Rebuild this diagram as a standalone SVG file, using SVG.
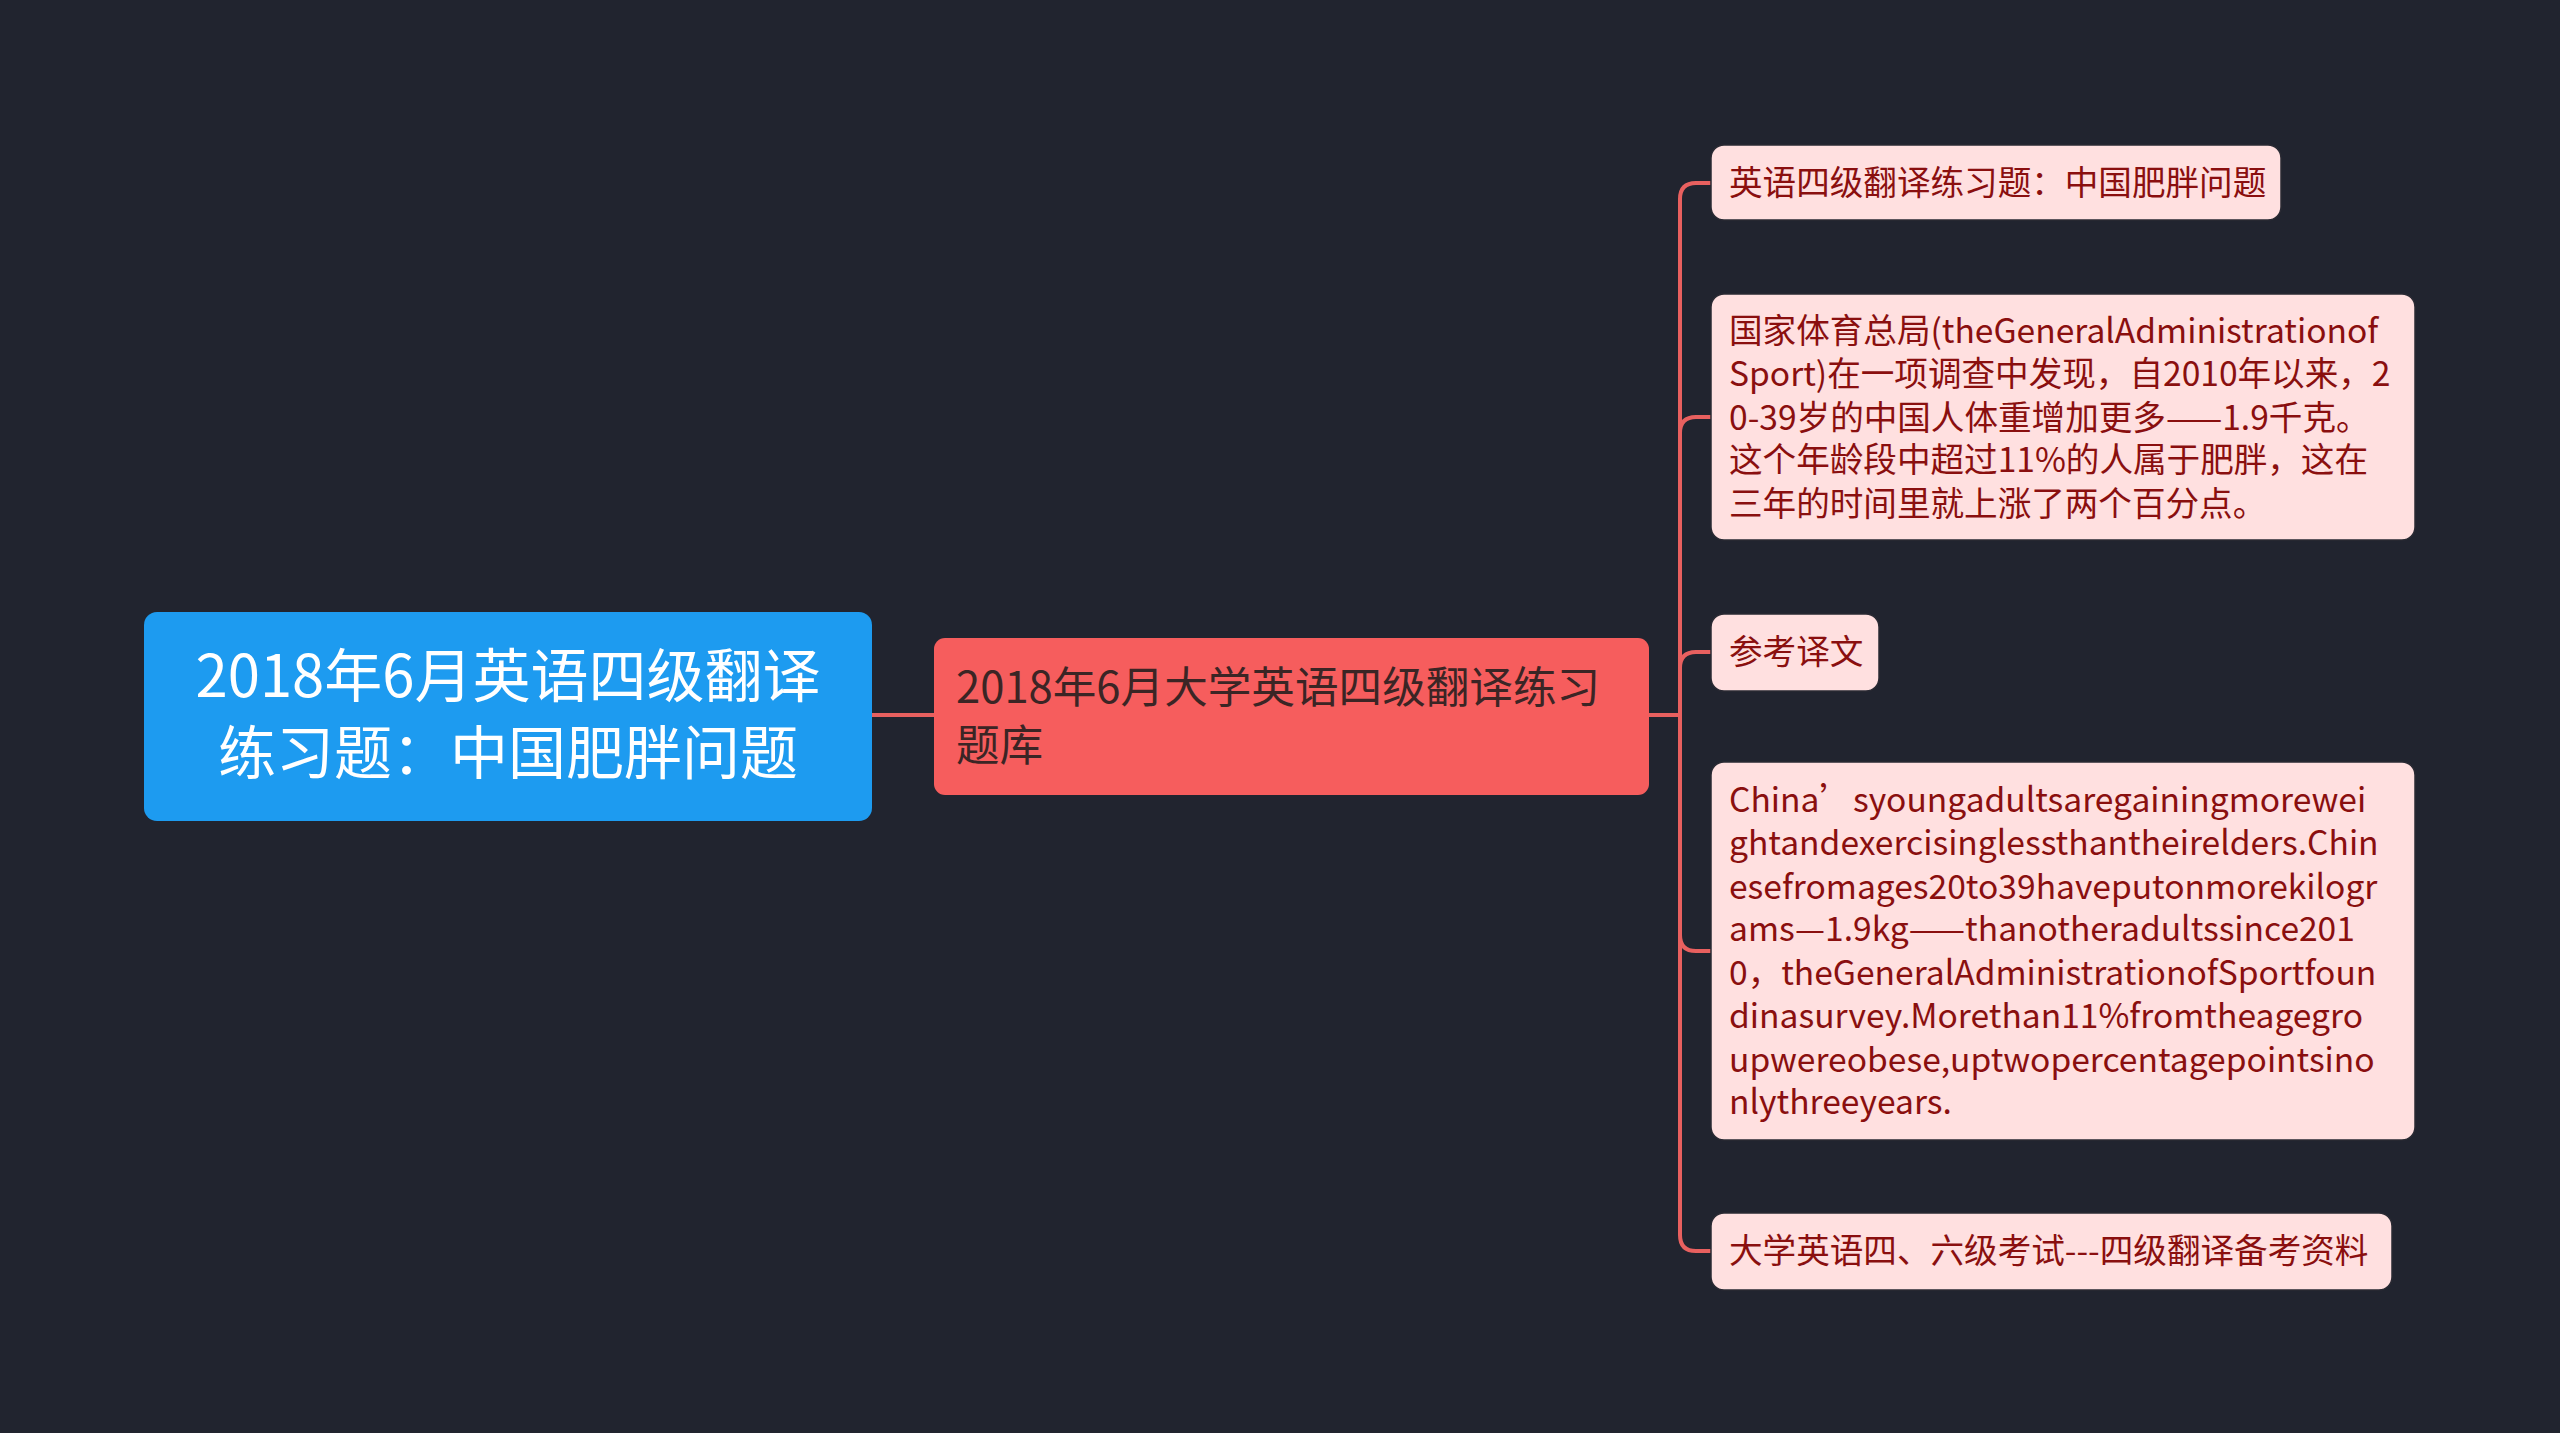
<svg xmlns="http://www.w3.org/2000/svg" width="2560" height="1433" viewBox="0 0 2560 1433">
<style>
.t{font-family:"Noto Sans CJK SC","Noto Sans",sans-serif;}
.root{fill:#1D9BF0;}
.rt{fill:#ffffff;font-size:58px;}
.mid{fill:#F65D5D;}
.mt{fill:#3b2525;font-size:43.6px;}
.leaf{fill:#FFE0E0;stroke:#2a2a33;stroke-width:1.5;}
.lt{fill:#8A0F0F;font-size:33.6px;}
.c{fill:none;stroke:#E8605F;stroke-width:4;}
</style>
<rect width="2560" height="1433" fill="#21242F"/>
<g id="connectors">
<path class="c" d="M872,715 H934"/>
<path class="c" d="M1649,715 H1680 V199 Q1680,183 1696,183 H1711"/>
<path class="c" d="M1680,715 V433 Q1680,417 1696,417 H1711"/>
<path class="c" d="M1680,715 V668 Q1680,652 1696,652 H1711"/>
<path class="c" d="M1680,715 V935 Q1680,951 1696,951 H1711"/>
<path class="c" d="M1680,715 V1235 Q1680,1251 1696,1251 H1711"/>
</g>
<g id="root">
<rect class="root" x="144" y="612" width="728" height="209" rx="13"/>
<text class="t rt" x="508" y="697" text-anchor="middle">2018年6月英语四级翻译</text>
<text class="t rt" x="508" y="774" text-anchor="middle">练习题：中国肥胖问题</text>
</g>
<g id="mid">
<rect class="mid" x="934" y="638" width="715" height="157" rx="11"/>
<text class="t mt" x="956" y="703">2018年6月大学英语四级翻译练习</text>
<text class="t mt" x="956" y="761">题库</text>
</g>
<g id="leaf1">
<rect class="leaf" x="1711" y="145" width="570" height="75" rx="13"/>
<text class="t lt" x="1729" y="195">英语四级翻译练习题：中国肥胖问题</text>
</g>
<g id="leaf2">
<rect class="leaf" x="1711" y="294" width="704" height="246" rx="13"/>
<text class="t lt" x="1729" y="343">国家体育总局(theGeneralAdministrationof</text>
<text class="t lt" x="1729" y="386">Sport)在一项调查中发现，自2010年以来，2</text>
<text class="t lt" x="1729" y="430">0-39岁的中国人体重增加更多——1.9千克。</text>
<text class="t lt" x="1729" y="472">这个年龄段中超过11%的人属于肥胖，这在</text>
<text class="t lt" x="1729" y="516">三年的时间里就上涨了两个百分点。</text>
</g>
<g id="leaf3">
<rect class="leaf" x="1711" y="614" width="168" height="77" rx="13"/>
<text class="t lt" x="1729" y="664">参考译文</text>
</g>
<g id="leaf4">
<rect class="leaf" x="1711" y="762" width="704" height="378" rx="13"/>
<text class="t lt" x="1729" y="812">China’syoungadultsaregainingmorewei</text>
<text class="t lt" x="1729" y="855">ghtandexercisinglessthantheirelders.Chin</text>
<text class="t lt" x="1729" y="899">esefromages20to39haveputonmorekilogr</text>
<text class="t lt" x="1729" y="941">ams—1.9kg——thanotheradultssince201</text>
<text class="t lt" x="1729" y="985">0，theGeneralAdministrationofSportfoun</text>
<text class="t lt" x="1729" y="1028">dinasurvey.Morethan11%fromtheagegro</text>
<text class="t lt" x="1729" y="1072">upwereobese,uptwopercentagepointsino</text>
<text class="t lt" x="1729" y="1114">nlythreeyears.</text>
</g>
<g id="leaf5">
<rect class="leaf" x="1711" y="1213" width="681" height="77" rx="13"/>
<text class="t lt" x="1729" y="1263">大学英语四、六级考试---四级翻译备考资料</text>
</g>
</svg>
